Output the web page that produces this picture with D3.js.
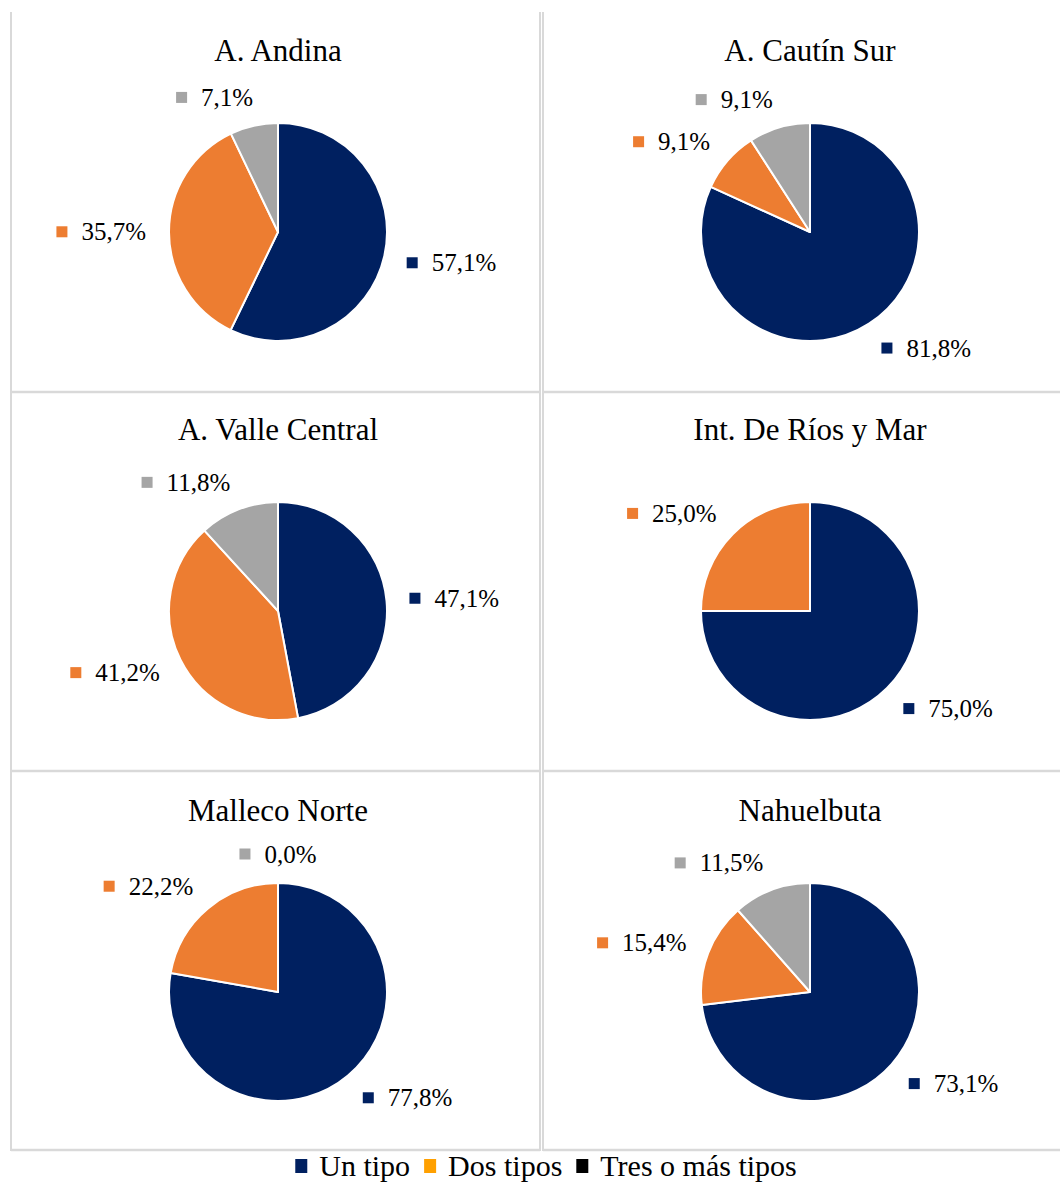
<!DOCTYPE html>
<html>
<head>
<meta charset="utf-8">
<script src="https://cdn.jsdelivr.net/npm/d3@7"></script>
<style>
  body { margin: 0; background: #fff; }
  text { font-family: "Liberation Serif", "Times New Roman", serif; fill: #000; }
</style>
</head>
<body>
<svg id="chart" width="1060" height="1185"></svg>
<script>
// data
var regions = ["A. Andina", "A. Cautín Sur", "A. Valle Central", "Int. De Ríos y Mar", "Malleco Norte", "Nahuelbuta"];
var unTipo   = [57.1, 81.8, 47.1, 75.0, 77.8, 73.1];
var dosTipos = [35.7, 9.1, 41.2, 25.0, 22.2, 15.4];
var tresMas  = [7.1, 9.1, 11.8, null, 0.0, 11.5];
var seriesNames = ["Un tipo", "Dos tipos", "Tres o más tipos"];

var pieColors = ["#002060", "#ED7D31", "#A5A5A5"];
var legendColors = ["#002060", "#FFA000", "#000000"];

var svg = d3.select("#chart");

// panel frame
var colX = [[11, 540], [543, 1062]],
    rowY = [12, 392, 771, 1150];

var frame = svg.append("g").attr("stroke", "#d9d9d9").attr("fill", "none");
[11, 540, 543].forEach(function(x) {
  frame.append("line").attr("x1", x).attr("x2", x).attr("y1", 12).attr("y2", 1151).attr("stroke-width", 2);
});
rowY.slice(1).forEach(function(y) {
  colX.forEach(function(c) {
    frame.append("line").attr("x1", c[0]).attr("x2", c[1]).attr("y1", y).attr("y2", y).attr("stroke-width", 2.5);
  });
});

var radius = 109;
var arc = d3.arc().innerRadius(0).outerRadius(radius);
var pie = d3.pie().sort(null).value(function(d) { return d.v; });
var fmt = function(v) { return v.toFixed(1).replace(".", ",") + "%"; };

var centersX = [278, 810],
    centersY = [232, 611, 992];

regions.forEach(function(name, i) {
  var cx = centersX[i % 2],
      cy = centersY[Math.floor(i / 2)];

  var data = [
    {k: 0, v: unTipo[i]},
    {k: 1, v: dosTipos[i]},
    {k: 2, v: tresMas[i]}
  ].filter(function(d) { return d.v !== null; });

  var g = svg.append("g").attr("transform", "translate(" + cx + "," + cy + ")");

  g.append("text")
      .attr("x", 0)
      .attr("y", -171)
      .attr("text-anchor", "middle")
      .attr("font-size", 31)
      .text(name);

  var arcs = pie(data);

  g.selectAll("path")
    .data(arcs)
    .enter().append("path")
      .attr("d", arc)
      .attr("fill", function(d) { return pieColors[d.data.k]; })
      .attr("stroke", "#fff")
      .attr("stroke-width", 2)
      .attr("stroke-linejoin", "round");

  // data labels outside the pie
  arcs.forEach(function(d) {
    var a = (d.startAngle + d.endAngle) / 2,
        s = Math.sin(a), c = Math.cos(a);

    var lab = g.append("g");
    var t = lab.append("text")
        .attr("font-size", 25)
        .attr("dy", "0.34em")
        .text(fmt(d.data.v));
    var tw = t.node().getComputedTextLength();
    var w = 11 + 14 + tw;

    var lx = s * 132 + Math.sign(s) * Math.min(1, 4 * Math.abs(s)) * w / 2,
        ly = -c * 138;

    lab.append("rect")
        .attr("x", lx - w / 2)
        .attr("y", ly - 5.5)
        .attr("width", 11)
        .attr("height", 11)
        .attr("fill", pieColors[d.data.k]);
    t.attr("x", lx - w / 2 + 25).attr("y", ly);
  });
});

// legend
var legend = svg.append("g");
var lxPos = 0;
seriesNames.forEach(function(n, i) {
  var item = legend.append("g").attr("transform", "translate(" + lxPos + ",0)");
  item.append("rect")
      .attr("x", 0).attr("y", -7)
      .attr("width", 12).attr("height", 14)
      .attr("fill", legendColors[i]);
  var t = item.append("text")
      .attr("x", 24)
      .attr("dy", "0.34em")
      .attr("font-size", 30)
      .text(n);
  lxPos += 24 + t.node().getComputedTextLength() + 14;
});
var legendW = lxPos - 14;
legend.attr("transform", "translate(" + (546 - legendW / 2) + ",1166)");
</script>
</body>
</html>
